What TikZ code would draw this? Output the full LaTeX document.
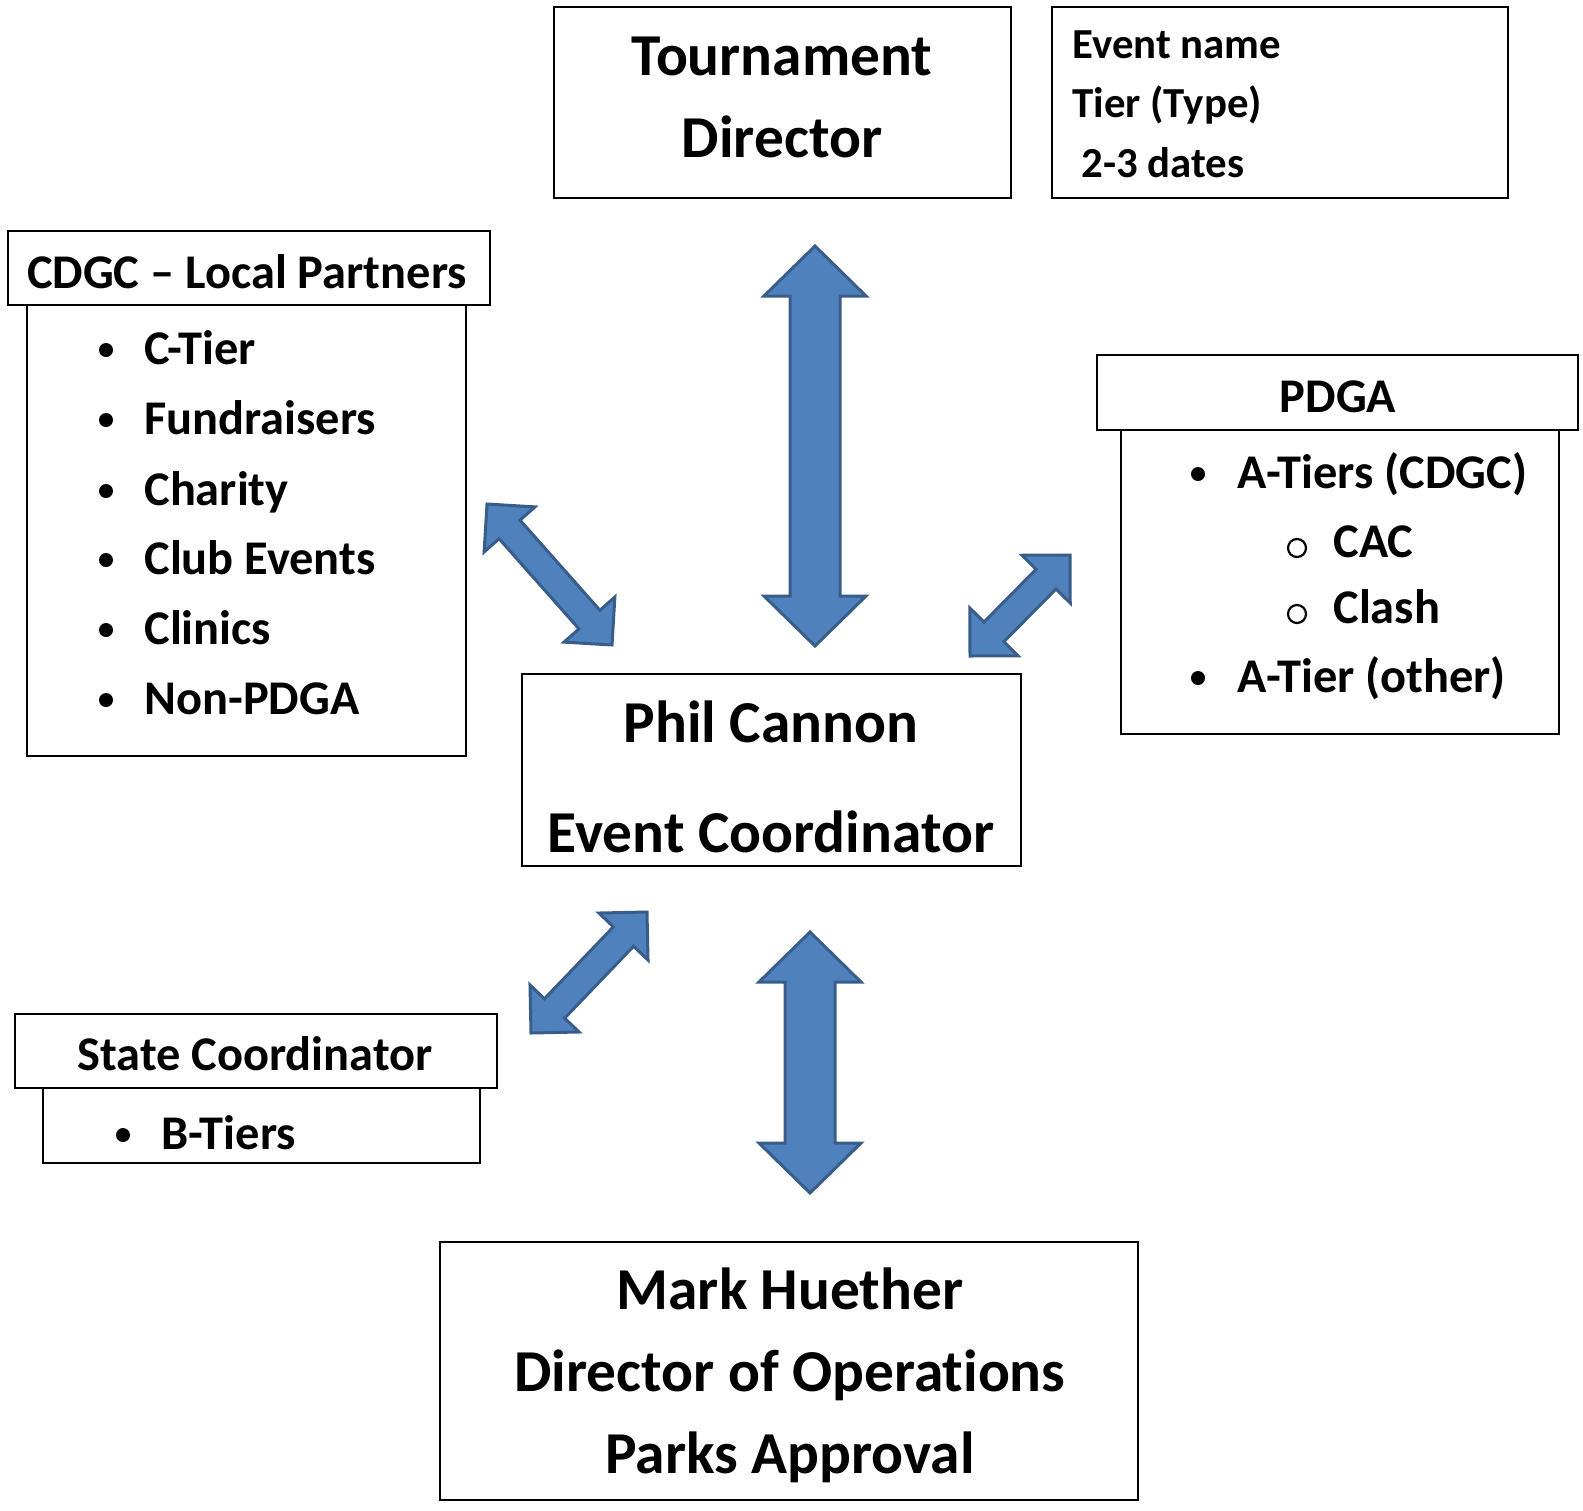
\documentclass[tikz,border=0pt]{standalone}
\usepackage{fontspec}
\setmainfont{Carlito}[Ligatures=NoCommon]
\usetikzlibrary{calc,fit}
\definecolor{arrowfill}{HTML}{4F81BD}
\definecolor{arrowline}{HTML}{385D8A}
\tikzset{
  box/.style={draw=black, line width=0.75pt, inner sep=0pt, rectangle},
  bigtxt/.style={inner sep=0pt, font=\fontsize{29.7pt}{34pt}\selectfont\bfseries},
  midtxt/.style={inner sep=0pt, font=\fontsize{24.2pt}{28pt}\selectfont\bfseries},
  smalltxt/.style={inner sep=0pt, font=\fontsize{21.4pt}{25pt}\selectfont\bfseries},
  dotbullet/.style={circle, fill=black, inner sep=0pt, minimum size=7pt},
  ringbullet/.style={circle, draw=black, line width=1.1pt, inner sep=0pt, minimum size=9pt},
  blockarrow/.style={fill=arrowfill, draw=arrowline, line width=1.5pt, line join=miter},
}
% #1 tip A, #2 tip B, #3 shaft half width, #4 head half width, #5 head length
\newcommand\dblblockarrow[5]{%
  \draw[blockarrow] (#1)
    -- ($(#1)!#5!(#2)!#4!90:(#2)$)
    -- ($(#1)!#5!(#2)!#3!90:(#2)$)
    -- ($(#2)!#5!(#1)!#3!-90:(#1)$)
    -- ($(#2)!#5!(#1)!#4!-90:(#1)$)
    -- (#2)
    -- ($(#2)!#5!(#1)!#4!90:(#1)$)
    -- ($(#2)!#5!(#1)!#3!90:(#1)$)
    -- ($(#1)!#5!(#2)!#3!-90:(#2)$)
    -- ($(#1)!#5!(#2)!#4!-90:(#2)$)
    -- cycle;}
\begin{document}
\begin{tikzpicture}[x=0.5pt, y=-0.5pt]
\useasboundingbox (0,0) rectangle (1583,1510);

% ---------- boxes ----------
\node[box, fit={(554,7) (1011,198)}] (td) {};
\node[box, fit={(1052,7) (1508,198)}] (info) {};
\node[box, fit={(8,231) (490,305)}] (cdgch) {};
\node[box, fit={(27,305) (466,756)}] (cdgcl) {};
\node[box, fit={(1097,355) (1578,430)}] (pdgah) {};
\node[box, fit={(1121,430) (1559,734)}] (pdgal) {};
\node[box, fit={(522,674) (1021,866)}] (phil) {};
\node[box, fit={(15,1014) (497,1088)}] (stateh) {};
\node[box, fit={(43,1088) (480,1163)}] (statel) {};
\node[box, fit={(440,1242) (1138,1500)}] (mark) {};

% ---------- texts ----------
\node[bigtxt, anchor=base] (td1) at (782,75) {Tournament};
\node[bigtxt, anchor=base] (td2) at (782,157) {Director};

\node[smalltxt, anchor=base west] (i1) at (1072,58) {Event name};
\node[smalltxt, anchor=base west] (i2) at (1072,117) {Tier (Type)};
\node[smalltxt, anchor=base west] (i3) at (1081,177) {2-3 dates};

\node[midtxt, anchor=base] (ch) at (247,288) {CDGC – Local Partners};
\foreach \y/\t [count=\k] in {364/C-Tier, 434/Fundraisers, 505/Charity, 574/Club Events, 644/Clinics, 714/Non-PDGA}{
  \node[dotbullet] (cb\k) at (106,\y-14) {};
  \node[midtxt, anchor=base west] (ct\k) at (144,\y) {\t};
}

\node[midtxt, anchor=base] (ph) at (1338,412) {PDGA};
\node[dotbullet] (pb1) at (1198,474) {};
\node[midtxt, anchor=base west] (pt1) at (1237,488) {A-Tiers (CDGC)};
\node[ringbullet] (pb2) at (1297,548) {};
\node[midtxt, anchor=base west] (pt2) at (1333,557) {CAC};
\node[ringbullet] (pb3) at (1297,614) {};
\node[midtxt, anchor=base west] (pt3) at (1333,623) {Clash};
\node[dotbullet] (pb4) at (1198,678) {};
\node[midtxt, anchor=base west] (pt4) at (1237,692) {A-Tier (other)};

\node[bigtxt, anchor=base] (p1) at (771,742) {Phil Cannon};
\node[bigtxt, anchor=base] (p2) at (771,852) {Event Coordinator};

\node[midtxt, anchor=base] (sh) at (255,1070) {State Coordinator};
\node[dotbullet] (sb1) at (123,1135) {};
\node[midtxt, anchor=base west] (st1) at (161,1149) {B-Tiers};

\node[bigtxt, anchor=base] (m1) at (790,1309) {Mark Huether};
\node[bigtxt, anchor=base] (m2) at (790,1391) {Director of Operations};
\node[bigtxt, anchor=base] (m3) at (790,1473) {Parks Approval};

% ---------- block arrows ----------
\coordinate (a1) at (815,246);  \coordinate (b1) at (815,646);
\coordinate (a2) at (810,932);  \coordinate (b2) at (810,1193);
\coordinate (a3) at (487,504);  \coordinate (b3) at (612,645);
\coordinate (a4) at (1070,555); \coordinate (b4) at (970,656);
\coordinate (a5) at (647,912);  \coordinate (b5) at (531,1033);
\dblblockarrow{a1}{b1}{12.5pt}{25.5pt}{25pt}
\dblblockarrow{a2}{b2}{12.5pt}{25.5pt}{25pt}
\dblblockarrow{a3}{b3}{7pt}{17pt}{17pt}
\dblblockarrow{a4}{b4}{7pt}{17pt}{17pt}
\dblblockarrow{a5}{b5}{7pt}{17pt}{17pt}
\end{tikzpicture}
\end{document}
